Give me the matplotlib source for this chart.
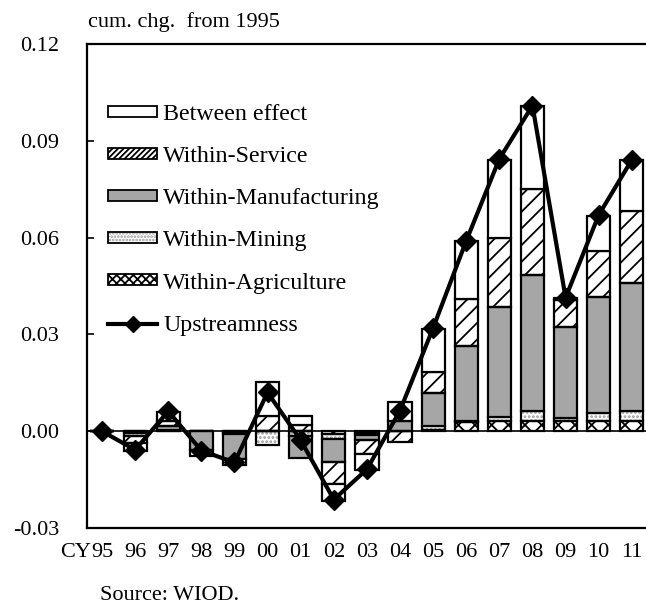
import matplotlib
matplotlib.use("Agg")
import matplotlib.pyplot as plt
from matplotlib.patches import Patch
from matplotlib.lines import Line2D
import numpy as np

plt.rcParams['font.family'] = ['Liberation Serif', 'DejaVu Serif']
plt.rcParams['hatch.linewidth'] = 1.3

years = ["95", "96", "97", "98", "99", "00", "01", "02", "03", "04",
         "05", "06", "07", "08", "09", "10", "11"]
year_prefix = "CY"

agriculture = [0, -0.0005, 0, 0, -0.0005, 0, 0, -0.001, -0.0005, 0,
               0.0005, 0.0028, 0.0031, 0.0031, 0.0031, 0.0031, 0.0031]
mining = [0, -0.001, 0.0004, 0, -0.0005, -0.0042, -0.0015, -0.0015, -0.0007, 0,
          0.001, 0.0003, 0.0012, 0.0031, 0.0009, 0.0025, 0.0031]
manufacturing = [0, 0, 0.0013, -0.0058, -0.0075, 0, -0.0068, -0.0072, -0.0015, 0.0031,
                 0.0102, 0.0232, 0.0343, 0.0421, 0.0284, 0.0359, 0.0396]
service = [0, -0.0021, 0.0016, 0, 0, 0.0046, 0.0020, -0.0068, -0.0045, -0.0035,
           0.0068, 0.0148, 0.0213, 0.0269, 0.0084, 0.0145, 0.0223]
between = [0, -0.0024, 0.0025, -0.002, -0.002, 0.0105, 0.0026, -0.0052, -0.0048, 0.0058,
           0.0133, 0.0179, 0.0241, 0.0257, 0.0005, 0.0108, 0.0158]
upstreamness = [0, -0.0058, 0.0062, -0.0060, -0.0097, 0.0120, -0.0028, -0.0212, -0.0118, 0.0064,
                0.0320, 0.0590, 0.0844, 0.1009, 0.0414, 0.0670, 0.0841]

labels = ["Between effect", "Within-Service", "Within-Manufacturing",
          "Within-Mining", "Within-Agriculture", "Upstreamness"]

W, H = 646, 610
fig = plt.figure(figsize=(W / 100, H / 100), dpi=100)
ax = fig.add_axes([87 / W, 1 - 528 / H, 568 / W, (528 - 44) / H])

x = np.arange(len(years))
bw = 0.7
edge_lw = 1.6

# series in stacking order (nearest zero first)
series = [
    (agriculture, dict(facecolor='white', hatch='xx', hcolor='black')),
    (mining, dict(facecolor='white', hatch='....', hcolor='#9a9a9a')),
    (manufacturing, dict(facecolor='#a6a6a6', hatch=None, hcolor=None)),
    (service, dict(facecolor='white', hatch='//', hcolor='black')),
    (between, dict(facecolor='white', hatch=None, hcolor=None)),
]

pos_bottom = np.zeros(len(x))
neg_bottom = np.zeros(len(x))
for vals, st in series:
    v = np.array(vals, dtype=float)
    bottom = np.where(v >= 0, pos_bottom, neg_bottom)
    if st['hatch']:
        ax.bar(x, v, bw, bottom=bottom, color=st['facecolor'], hatch=st['hatch'],
               edgecolor=st['hcolor'], linewidth=0, zorder=2)
        ax.bar(x, v, bw, bottom=bottom, fill=False, edgecolor='black',
               linewidth=edge_lw, zorder=2.1)
    else:
        ax.bar(x, v, bw, bottom=bottom, color=st['facecolor'],
               edgecolor='black', linewidth=edge_lw, zorder=2.1)
    pos_bottom = pos_bottom + np.where(v > 0, v, 0)
    neg_bottom = neg_bottom + np.where(v < 0, v, 0)

ax.axhline(0, color='black', lw=1.2, zorder=1.5)
ax.plot(x, upstreamness, color='black', lw=3, marker='D', markersize=10, zorder=4)

ax.set_xlim(-0.453, 16.7)
ax.set_ylim(-0.03, 0.12)
yt = [-0.03, 0.0, 0.03, 0.06, 0.09, 0.12]
ax.set_yticks(yt)
ax.set_yticklabels([f"{t:.2f}" for t in yt])
ax.set_xticks(x)
ax.set_xticklabels(years)
ax.tick_params(axis='x', length=0, pad=11, labelsize=16)
ax.tick_params(axis='y', direction='in', length=5, width=1.2, pad=20, labelsize=16)
for s in ax.spines.values():
    s.set_linewidth(1.6)
    s.set_color('black')

# "CY" prefix placed just left of the first year label
fig.canvas.draw()
first = ax.get_xticklabels()[0]
bb = first.get_window_extent()
fig.text(bb.x0 / W, (bb.y0 + bb.y1) / 2 / H, year_prefix, fontsize=16,
         ha='right', va='center')

# legend
h_between = Patch(facecolor='white', edgecolor='black', linewidth=1.3)
h_service = Patch(facecolor='white', edgecolor='black', hatch='//////', linewidth=1.3)
h_manuf = Patch(facecolor='#a6a6a6', edgecolor='black', linewidth=1.3)
h_mining = (Patch(facecolor='white', edgecolor='#9a9a9a', hatch='.....', linewidth=0),
            Patch(fill=False, edgecolor='black', linewidth=1.3))
h_agri = Patch(facecolor='white', edgecolor='black', hatch='xxxx', linewidth=1.3)
h_up = Line2D([], [], color='black', lw=3, marker='D', markersize=8)
leg = fig.legend([h_between, h_service, h_manuf, h_mining, h_agri, h_up], labels,
                 loc='upper left', bbox_to_anchor=(108 / W, 1 - 104 / H),
                 frameon=False, fontsize=17.3, handlelength=2.04, handleheight=0.33,
                 handletextpad=0.25, labelspacing=0.88, borderpad=0, borderaxespad=0)

fig.text(88 / W, 1 - 22 / H, "cum. chg.  from 1995", fontsize=16, va='center', ha='left')
fig.text(100 / W, 1 - 596 / H, "Source: WIOD.", fontsize=16, va='center', ha='left')

fig.savefig("out.png", dpi=100)
